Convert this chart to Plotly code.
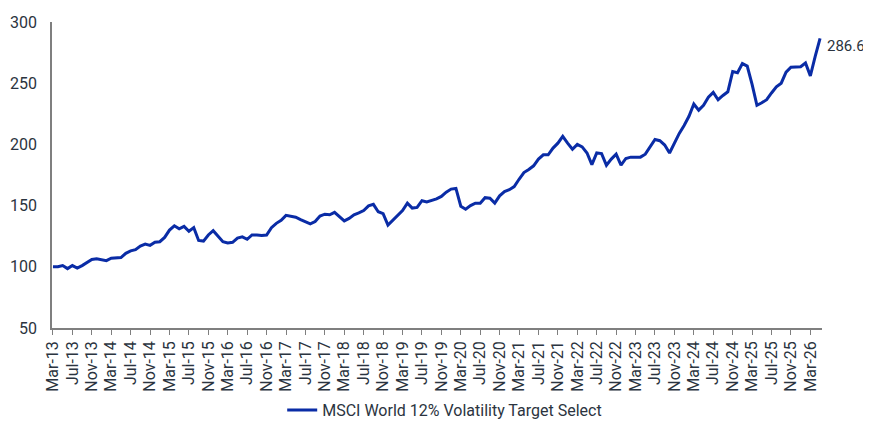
import plotly.graph_objects as go

months = ["Jan", "Feb", "Mar", "Apr", "May", "Jun", "Jul", "Aug", "Sep", "Oct", "Nov", "Dec"]

# Monthly index levels, Mar-13 .. May-26
values = [
    100, 100, 101, 98.5, 101, 99, 101, 103.5, 106, 106.5,
    106, 105, 107, 107, 107.5, 111, 113, 114, 117, 118.5,
    117.5, 120, 120.5, 124, 130, 133.5, 131, 133, 129, 132,
    121.5, 121, 126, 129.5, 125, 120.5, 119.5, 120, 123.5, 124.5,
    122.5, 126, 126, 125.5, 126, 132, 135.5, 138, 142, 141.5,
    140.5, 138.5, 137, 135, 137, 141.5, 143, 142.5, 144.5, 141,
    137.5, 139.5, 142.5, 144, 146, 149.8, 151, 145, 143.5, 134,
    138, 142, 146, 152, 148, 148.5, 154, 153, 154, 155.5,
    157.5, 161, 163.5, 164, 149.5, 147, 150, 152, 152, 156.5,
    156, 152, 158, 161.5, 163, 165.5, 171.5, 177, 179.5, 182.5,
    188, 191.5, 191.5, 197, 201, 206.5, 201, 196, 200, 198,
    193, 183.5, 193, 192.5, 183, 188, 192, 183, 188.5, 189.6,
    189.6, 189.6, 192, 198, 204, 203, 199.5, 193, 201, 209,
    215.5, 223, 233, 228, 232, 238.5, 242.5, 236.5, 240, 243,
    259.5, 258.5, 266, 264, 249, 232, 234, 236.5, 242, 247,
    250, 259, 263, 263, 263.5, 266.5, 256, 272, 286.6,
]

# Category labels, one per month starting Mar-13
labels = []
y, mo = 2013, 2
for _ in values:
    labels.append(f"{months[mo]}-{str(y)[2:]}")
    mo += 1
    if mo == 12:
        mo = 0
        y += 1

tick_labels = labels[::4]
series_name = "MSCI World 12% Volatility Target Select"
last_label = f"{values[-1]:.1f}"

line_color = "#0a2ca6"
text_color = "#2b3440"
axis_color = "#7f7f7f"

fig = go.Figure()
fig.add_trace(go.Scatter(
    x=labels, y=values, mode="lines", name=series_name,
    line=dict(color=line_color, width=3),
    showlegend=True,
))

fig.add_annotation(
    x=labels[-1], y=values[-1], text=last_label, showarrow=False,
    xanchor="left", xshift=5, yshift=-8,
    font=dict(family="Roboto", size=15, color=text_color),
)

fig.update_layout(
    width=863, height=413,
    margin=dict(l=44, r=49, t=14, b=93, autoexpand=False),
    paper_bgcolor="white", plot_bgcolor="white",
    font=dict(family="Roboto", size=16, color=text_color),
    showlegend=True,
    legend=dict(orientation="h", x=0.51, xanchor="center", y=-0.268, yanchor="middle",
                font=dict(family="Roboto", size=16, color=text_color)),
    xaxis=dict(
        type="category", automargin=False,
        range=[-0.2, len(values) - 0.6],
        tickmode="array", tickvals=tick_labels, ticktext=tick_labels,
        tickangle=-90, ticks="outside", ticklen=5, tickcolor=axis_color,
        showline=True, linecolor=axis_color, linewidth=1.5,
        showgrid=False, zeroline=False,
        tickfont=dict(family="Roboto", size=16, color=text_color),
    ),
    yaxis=dict(
        automargin=False,
        range=[50, 300], tickvals=[50, 100, 150, 200, 250, 300],
        showline=True, linecolor=axis_color, linewidth=1.5,
        showgrid=False, zeroline=False, ticks="", ticklabelstandoff=10,
        tickfont=dict(family="Roboto", size=16, color=text_color),
    ),
)

fig.write_html("out.html")
